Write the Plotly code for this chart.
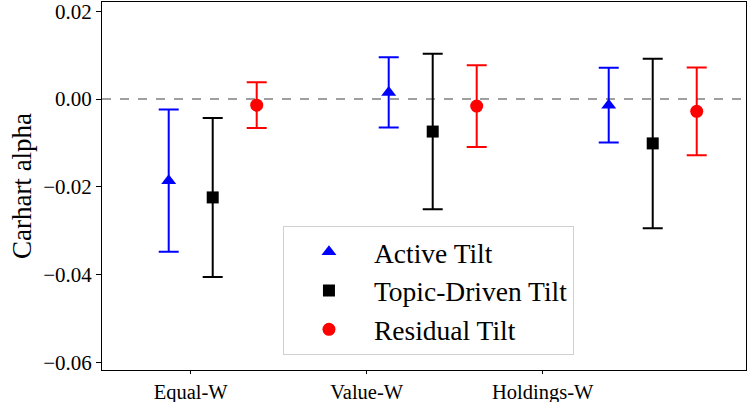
import plotly.graph_objects as go

categories = ["Equal-W", "Value-W", "Holdings-W"]
series_names = ["Active Tilt", "Topic-Driven Tilt", "Residual Tilt"]

active_alpha = [-0.0186, 0.0015, -0.0014]
active_ci = [0.0162, 0.0080, 0.0085]
topic_alpha = [-0.0224, -0.0074, -0.0101]
topic_ci = [0.0181, 0.0177, 0.0193]
resid_alpha = [-0.0014, -0.0016, -0.0028]
resid_ci = [0.0052, 0.0093, 0.0100]

yticks = [-0.06, -0.04, -0.02, 0.00, 0.02]

group_step = 1.25
offsets = [-0.125, 0.125, 0.375]
colors = ["#0000ff", "#000000", "#ff0000"]
symbols = ["triangle-up", "square", "circle"]
msizes = [13, 12, 13]

FONT = "Liberation Serif"

fig = go.Figure()
series = [(active_alpha, active_ci), (topic_alpha, topic_ci), (resid_alpha, resid_ci)]
for j, (vals, ci) in enumerate(series):
    xs = [i * group_step + offsets[j] for i in range(len(categories))]
    fig.add_trace(go.Scatter(
        x=xs, y=vals, mode="markers", name=series_names[j],
        legendgroup=series_names[j],
        marker=dict(symbol=symbols[j], color=colors[j], size=msizes[j]),
        error_y=dict(type="data", array=ci, visible=True, color=colors[j], thickness=2, width=10),
    ))

fig.add_hline(y=0, line=dict(color="gray", dash="dash", width=1.5), layer="below")

fig.update_layout(
    width=748, height=402,
    margin=dict(l=102, r=2, t=2, b=32),
    plot_bgcolor="white", paper_bgcolor="white",
    font=dict(family=FONT, size=21, color="black"),
    showlegend=True,
    legend=dict(
        x=0.281, y=0.39, xanchor="left", yanchor="top",
        bgcolor="white", bordercolor="#d0d0d0", borderwidth=1,
        font=dict(family=FONT, size=27.5),
        itemwidth=80, tracegroupgap=0,
    ),
    xaxis=dict(
        range=[-0.504, 3.155], tickmode="array", tickvals=[0, 1, 2], ticktext=categories,
        showgrid=False, zeroline=False, showline=True, linecolor="black", linewidth=1,
        mirror=True, ticks="outside", ticklen=3, tickcolor="black",
        tickfont=dict(family=FONT, size=20.5), automargin=False,
        ticklabeloverflow="allow",
    ),
    yaxis=dict(
        range=[-0.0617, 0.0221], tickmode="array", tickvals=yticks,
        ticktext=[("\u2212" if v < 0 else "") + f"{abs(v):.2f}" for v in yticks],
        showgrid=False, zeroline=False, showline=True, linecolor="black", linewidth=1,
        mirror=True, ticks="outside", ticklen=5, tickcolor="black",
        tickfont=dict(family=FONT, size=21), automargin=False,
        ticklabeloverflow="allow",
        title=dict(text="Carhart alpha", font=dict(family=FONT, size=27), standoff=3),
    ),
)

fig.write_html("out.html", post_script="document.body.style.margin='0';",
               config={"displayModeBar": False})
